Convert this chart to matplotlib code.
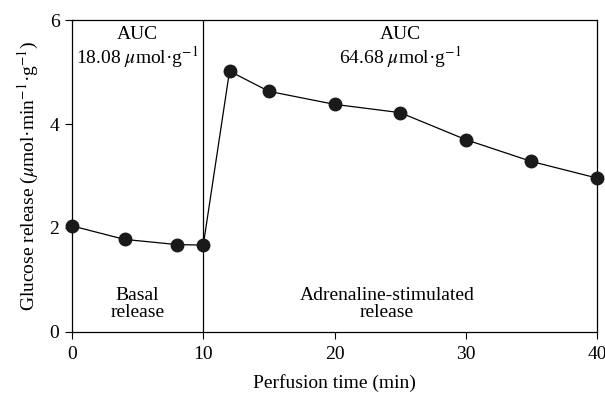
import matplotlib
matplotlib.use("Agg")
import matplotlib.pyplot as plt

# --- data ---
time_min = [0, 4, 8, 10, 12, 15, 20, 25, 30, 35, 40]
glucose = [2.04, 1.78, 1.68, 1.67, 5.02, 4.63, 4.38, 4.22, 3.70, 3.28, 2.96]
x_ticks = [0, 10, 20, 30, 40]
y_ticks = [0, 2, 4, 6]
split_time = 10

plt.rcParams["font.family"] = ["Liberation Serif", "DejaVu Serif"]
plt.rcParams["mathtext.fontset"] = "stix"

fig = plt.figure(figsize=(6.05, 3.96), dpi=100)
ax = fig.add_axes([0.119, 0.162, 0.868, 0.787])

ax.plot(time_min, glucose, color="black", lw=0.9, marker="o",
        markersize=9, markerfacecolor="#1a1a1a", markeredgecolor="#1a1a1a", clip_on=False, zorder=3)
ax.axvline(split_time, color="black", lw=0.9)

ax.set_xlim(0, 40)
ax.set_ylim(0, 6)
ax.set_xticks(x_ticks)
ax.set_yticks(y_ticks)
ax.tick_params(direction="out", length=5, width=0.8, labelsize=14)
ax.tick_params(axis="x", pad=5)
ax.tick_params(axis="y", pad=4)
for s in ax.spines.values():
    s.set_linewidth(0.9)

ax.set_xlabel("Perfusion time (min)", fontsize=14, labelpad=8)
ax.set_ylabel(r"Glucose release ($\mu$mol·min$^{-1}$·g$^{-1}$)", fontsize=14, labelpad=6)

ax.text(5, 5.47, "AUC\n" + r"18.08 $\mu$mol·g$^{-1}$", ha="center", va="center", fontsize=14, linespacing=1.05)
ax.text(25, 5.47, "AUC\n" + r"64.68 $\mu$mol·g$^{-1}$", ha="center", va="center", fontsize=14, linespacing=1.05)
ax.text(5, 0.54, "Basal\nrelease", ha="center", va="center", fontsize=14, linespacing=1.0)
ax.text(24, 0.54, "Adrenaline-stimulated\nrelease", ha="center", va="center", fontsize=14, linespacing=1.0)

fig.savefig("out.png", dpi=100)
